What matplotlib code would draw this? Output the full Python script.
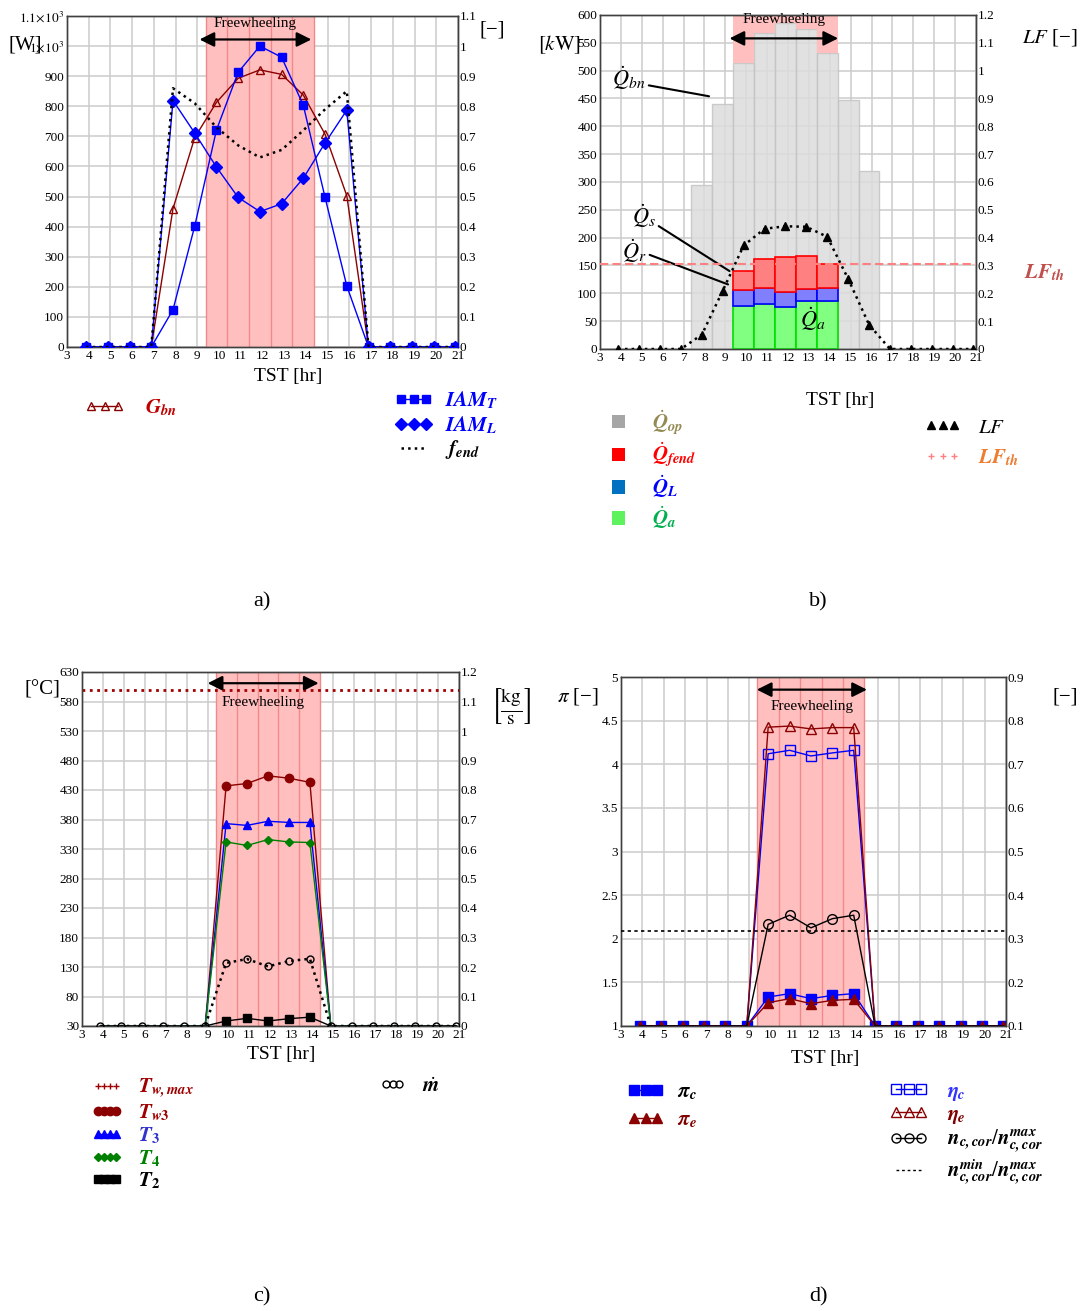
"""Four-panel daily profile: irradiance/IAM, heat balance, temperatures, turbomachinery."""

import matplotlib
import matplotlib.pyplot as plt
import numpy as np
from matplotlib.lines import Line2D
from matplotlib.patches import Patch

matplotlib.use("Agg")

plt.rcParams["font.family"] = ["Liberation Serif", "DejaVu Serif"]
plt.rcParams["mathtext.fontset"] = "stix"

# ---- data -------------------------------------------------------------
hours = np.arange(4, 22)            # hourly samples, drawn just before the hour
X_SHIFT = -0.12
fw_hours = np.arange(10, 15)        # freewheeling hours

# a) irradiance and incidence modifiers
g_bn = [0, 0, 0, 0, 460, 696, 813, 893, 921, 906, 837, 707, 503, 0, 0, 0, 0, 0]
iam_t = [0, 0, 0, 0, 0.124, 0.402, 0.721, 0.913, 1.0, 0.963, 0.803, 0.497, 0.203, 0, 0, 0, 0, 0]
iam_l = [0, 0, 0, 0, 0.819, 0.711, 0.598, 0.497, 0.45, 0.476, 0.561, 0.678, 0.787, 0, 0, 0, 0, 0]
f_end = [0, 0, 0, 0, 0.86, 0.81, 0.73, 0.67, 0.63, 0.655, 0.72, 0.79, 0.85, 0, 0, 0, 0, 0]

# b) heat balance [kW] and load factor
bar_hours = np.arange(8, 17)
q_op = [294, 441, 514, 567, 585, 574, 532, 447, 320]
q_a = [78, 81.5, 75.5, 87, 87]
q_l = [27.5, 28.5, 27.5, 20, 22]
q_fend = [35.5, 52.5, 62, 60, 44]
lf = [0, 0, 0, 0, 0.052, 0.21, 0.372, 0.432, 0.441, 0.439, 0.403, 0.252, 0.0875, 0, 0, 0, 0, 0]
lf_th = 0.305

# c) temperatures [degC] and mass flow [kg/s]
t_wmax = 600
t_w3 = [30] * 6 + [437, 441, 454, 450, 443] + [30] * 7
t_3 = [30] * 6 + [373, 370, 377, 375, 375] + [30] * 7
t_4 = [30] * 6 + [342, 336, 346, 342, 341] + [30] * 7
t_2 = [30] * 6 + [38.5, 43, 38.5, 42.4, 45] + [30] * 7
m_dot = [0] * 6 + [0.2136, 0.227, 0.202, 0.22, 0.228] + [0] * 7

# d) pressure ratios, efficiencies, corrected speed
pi_c = [1] * 6 + [1.332, 1.371, 1.313, 1.351, 1.371] + [1] * 7
pi_e = [1] * 6 + [1.267, 1.313, 1.256, 1.294, 1.306] + [1] * 7
eta_c = [0.1] * 6 + [0.724, 0.732, 0.719, 0.726, 0.732] + [0.1] * 7
eta_e = [0.1] * 6 + [0.785, 0.7875, 0.781, 0.784, 0.784] + [0.1] * 7
n_ratio = [0.1] * 6 + [0.333, 0.354, 0.325, 0.346, 0.354] + [0.1] * 7
n_min_ratio = 0.318

# ---- style ------------------------------------------------------------
PINK = "#ffbfbf"
PINK_EDGE = "#f08a8a"
GRID = "#cccccc"
DARKRED = "#8b0000"
BLUE = "#0000ff"
LEG_FS = 15

W, H = 1088, 1311
fig = plt.figure(figsize=(W / 100, H / 100), dpi=100)

x = hours + X_SHIFT
fw_idx = np.where(np.isin(hours, fw_hours))[0]


def box(l, t, r, b):
    return [l / W, 1 - b / H, (r - l) / W, (b - t) / H]


def fmt(v):
    return f"{v:g}"


def setup(rect, ylim, yticks, y2lim, y2ticks, ylabels=None):
    ax = fig.add_axes(box(*rect))
    ax.set_xlim(3, 21)
    ax.set_xticks(range(3, 22))
    ax.set_ylim(*ylim)
    ax.set_yticks(yticks)
    ax.set_yticklabels(ylabels if ylabels else [fmt(v) for v in yticks])
    ax.set_axisbelow(True)
    ax.grid(True, color=GRID, lw=1.1)
    ax.tick_params(length=0, labelsize=9.5, pad=2)
    ax2 = ax.twinx()
    ax2.set_ylim(*y2lim)
    ax2.set_yticks(y2ticks)
    ax2.set_yticklabels([fmt(v) for v in y2ticks])
    ax2.tick_params(length=0, labelsize=9.5, pad=1)
    for a in (ax, ax2):
        for s in a.spines.values():
            s.set_color("#404040")
            s.set_linewidth(1.0)
    return ax, ax2


def shade_freewheel(ax):
    lo = fw_hours[0] - 0.5 + X_SHIFT
    hi = fw_hours[-1] + 0.5 + X_SHIFT
    ax.axvspan(lo, hi, color=PINK, lw=0, zorder=1)
    for edge in np.arange(lo, hi + 0.01, 1.0):
        ax.axvline(edge, color=PINK_EDGE, lw=1, zorder=1.1)


def freewheel_arrow(ax, x0, x1, y_arrow, y_text):
    ax.annotate("", xy=(x0, y_arrow), xytext=(x1, y_arrow),
                arrowprops=dict(arrowstyle="<|-|>", color="black", lw=1.6,
                                mutation_scale=22, shrinkA=0, shrinkB=0),
                zorder=6)
    ax.text((x0 + x1) / 2, y_text, "Freewheeling", ha="center", va="center",
            fontsize=11, zorder=6)


def add_legend(handles, labels, colors, x_px, y_px, spacing, hl=2.0, pad=0.8,
               npts=3, hh=0.7):
    fig.legend(handles, labels, loc="upper left",
               bbox_to_anchor=(x_px / W, 1 - y_px / H), frameon=False,
               fontsize=LEG_FS, labelcolor=colors, numpoints=npts,
               handlelength=hl, handleheight=hh, handletextpad=pad,
               labelspacing=spacing, borderpad=0, borderaxespad=0)


def ftext(x_px, y_px, s, **kw):
    fig.text(x_px / W, 1 - y_px / H, s, ha="center", va="center", **kw)


# ---- a) ---------------------------------------------------------------
a_ticks = list(range(0, 1101, 100))
a_labels = [str(v) for v in a_ticks[:-2]] + [r"$1\!\times\!10^{3}$", r"$1.1\!\times\!10^{3}$"]
ax_a, a2 = setup((67, 16, 458, 347), (0, 1100), a_ticks, (0, 1.1),
                 np.round(np.arange(0, 1.11, 0.1), 1), a_labels)
shade_freewheel(ax_a)
ax_a.plot(x, g_bn, color=DARKRED, lw=1, marker="^", mfc="none", mec=DARKRED, ms=6, zorder=3)
a2.plot(x, iam_t, color=BLUE, lw=1, marker="s", ms=6, zorder=3)
a2.plot(x, iam_l, color=BLUE, lw=1, marker="D", ms=6, zorder=3)
a2.plot(x, f_end, color="black", lw=1.8, ls=":", zorder=3)
freewheel_arrow(ax_a, 9.1, 14.25, 1022, 1075)

ftext(25, 45, "[W]", fontsize=15)
ftext(492, 30, "[−]", fontsize=15)
ftext(288, 376, "TST [hr]", fontsize=14)

add_legend([Line2D([], [], color=DARKRED, lw=1, marker="^", mfc="none", ms=6)],
           [r"$\mathbfit{G}_{\mathbfit{bn}}$"], ["#c00000"], 85, 398, 0.3,
           hl=1.9, pad=1.0)
add_legend([Line2D([], [], color=BLUE, lw=1, marker="s", ms=6),
            Line2D([], [], color=BLUE, lw=1, marker="D", ms=6),
            Line2D([], [], color="black", lw=1.8, ls=":")],
           [r"$\mathbfit{IAM}_{\mathbfit{T}}$", r"$\mathbfit{IAM}_{\mathbfit{L}}$",
            r"$\mathbfit{f}_{\mathbfit{end}}$"],
           [BLUE, BLUE, "black"], 395, 390, 0.12, hl=1.8, pad=0.6)

# ---- b) ---------------------------------------------------------------
ax_b, b2 = setup((600, 15, 976, 349), (0, 600), list(range(0, 601, 50)), (0, 1.2),
                 np.round(np.arange(0, 1.21, 0.1), 1))
xb = bar_hours + X_SHIFT
xfw = fw_hours + X_SHIFT
q_op_fw = np.array(q_op)[np.isin(bar_hours, fw_hours)]
ax_b.bar(xb, q_op, width=1, color="#dcdcdc", edgecolor="#c4c4c4", lw=1, alpha=0.85, zorder=2)
ax_b.bar(xfw, 600 - q_op_fw, bottom=q_op_fw, width=1, color=PINK, lw=0, zorder=2.1)
qa = np.array(q_a)
ql = np.array(q_l)
ax_b.bar(xfw, qa, width=1, color="#80ff80", edgecolor="#00e000", lw=1.2, zorder=3)
ax_b.bar(xfw, ql, bottom=qa, width=1, color="#8080ff", edgecolor="#0000ff", lw=1.2, zorder=3)
ax_b.bar(xfw, q_fend, bottom=qa + ql, width=1, color="#ff8080", edgecolor="#ff0000", lw=1.2, zorder=3)
b2.plot(x, lf, color="black", lw=1.8, ls=":", marker="^", ms=5.5, zorder=4)
b2.axhline(lf_th, color="#ff8080", lw=1.5, ls=(0, (4, 2)), zorder=4)
freewheel_arrow(ax_b, 9.2, 14.4, 558, 592)

lead = dict(arrowstyle="-", color="black", lw=1.5, shrinkA=0, shrinkB=0)
ax_b.annotate(r"$\dot{Q}_{bn}$", xy=(8.22, 454), xytext=(4.4, 487), fontsize=16,
              ha="center", va="center", arrowprops=dict(lead, relpos=(1, 0.25)), zorder=6)
ax_b.annotate(r"$\dot{Q}_{s}$", xy=(9.2, 140), xytext=(5.1, 239), fontsize=16,
              ha="center", va="center", arrowprops=dict(lead, relpos=(1, 0.2)), zorder=6)
ax_b.annotate(r"$\dot{Q}_{r}$", xy=(9.13, 116), xytext=(4.65, 176), fontsize=16,
              ha="center", va="center", arrowprops=dict(lead, relpos=(1, 0.4)), zorder=6)
ax_b.text(13.2, 53, r"$\dot{Q}_{a}$", fontsize=16, ha="center", va="center", zorder=6)

ftext(560, 45, r"$[k\mathrm{W}]$", fontsize=15)
ftext(1050, 38, r"$LF$ [−]", fontsize=15)
ftext(1044, 273, r"$\mathbfit{LF}_{\mathbfit{th}}$", fontsize=15, color="#c0504d")
ftext(840, 400, "TST [hr]", fontsize=14)

add_legend([Patch(facecolor="#a6a6a6"), Patch(facecolor="#ff0000"),
            Patch(facecolor="#0070c0"), Patch(facecolor="#5ef25e")],
           [r"$\dot{\mathbfit{Q}}_{\mathbfit{op}}$", r"$\dot{\mathbfit{Q}}_{\mathbfit{fend}}$",
            r"$\dot{\mathbfit{Q}}_{\mathbfit{L}}$", r"$\dot{\mathbfit{Q}}_{\mathbfit{a}}$"],
           ["#948a54", "#ff0000", "#0000ff", "#00b050"], 612, 408, 0.2,
           hl=0.62, hh=0.62, pad=1.3)
add_legend([Line2D([], [], color="black", ls="none", marker="^", ms=6),
            Line2D([], [], color="#ff8080", ls="none", marker="+", ms=4)],
           [r"$LF$", r"$\mathbfit{LF}_{\mathbfit{th}}$"], ["black", "#ed7d31"],
           925, 418, 0.5, hl=1.7, pad=0.85)

# ---- c) ---------------------------------------------------------------
ax_c, c2 = setup((82, 672, 459, 1026), (30, 630), list(range(30, 631, 50)), (0, 1.2),
                 np.round(np.arange(0, 1.21, 0.1), 1))
shade_freewheel(ax_c)
ax_c.axhline(t_wmax, color="#a00000", lw=2, ls=":", zorder=3)
ax_c.plot(x, t_w3, color=DARKRED, lw=1, marker="o", ms=6, markevery=fw_idx, zorder=3)
ax_c.plot(x, t_3, color=BLUE, lw=1, marker="^", ms=6, markevery=fw_idx, zorder=3)
ax_c.plot(x, t_4, color="#008000", lw=1, marker="D", ms=4.5, markevery=fw_idx, zorder=3)
ax_c.plot(x, t_2, color="black", lw=1, marker="s", ms=6, markevery=fw_idx, zorder=3)
c2.plot(x, m_dot, color="black", lw=1.8, ls=":", marker="o", mfc="none", ms=5, zorder=3)
freewheel_arrow(ax_c, 9.0, 14.3, 611, 578)

ftext(42, 690, "[°C]", fontsize=15)
ftext(511, 706, r"$\left[\frac{\mathrm{kg}}{\mathrm{s}}\right]$", fontsize=20)
ftext(281, 1054, "TST [hr]", fontsize=14)

add_legend([Line2D([], [], color="#a00000", ls="none", marker="+", ms=4),
            Line2D([], [], color=DARKRED, lw=1, marker="o", ms=6),
            Line2D([], [], color=BLUE, lw=1, marker="^", ms=6),
            Line2D([], [], color="#008000", lw=1, marker="D", ms=4.5),
            Line2D([], [], color="black", lw=1, marker="s", ms=6)],
           [r"$\mathbfit{T}_{\mathbfit{w,max}}$", r"$\mathbfit{T}_{\mathbfit{w}\mathbf{3}}$",
            r"$\mathbfit{T}_{\mathbf{3}}$", r"$\mathbfit{T}_{\mathbf{4}}$",
            r"$\mathbfit{T}_{\mathbf{2}}$"],
           ["#a00000", "#a00000", "#3333cc", "#008000", "black"], 92, 1077, 0.1,
           hl=1.45, pad=0.77, npts=4)
add_legend([Line2D([], [], color="black", ls="none", marker="o", mfc="none", ms=5)],
           [r"$\dot{\mathbfit{m}}$"], ["black"], 380, 1077, 0.1, hl=1.2, pad=0.8)

# ---- d) ---------------------------------------------------------------
ax_d, d2 = setup((621, 677, 1006, 1026), (1, 5), list(np.arange(1, 5.01, 0.5)), (0.1, 0.9),
                 np.round(np.arange(0.1, 0.91, 0.1), 1))
shade_freewheel(ax_d)
ax_d.plot(x, pi_c, color=BLUE, lw=1, marker="s", ms=6.5, zorder=3)
ax_d.plot(x, pi_e, color=DARKRED, lw=1, marker="^", ms=6.5, zorder=3)
d2.plot(x, eta_c, color=BLUE, lw=1, marker="s", mfc="none", ms=6.5, markevery=fw_idx, zorder=3)
d2.plot(x, eta_e, color=DARKRED, lw=1, marker="^", mfc="none", ms=6.5, markevery=fw_idx, zorder=3)
d2.plot(x, n_ratio, color="black", lw=1, marker="o", mfc="none", ms=7, markevery=fw_idx, zorder=3)
d2.axhline(n_min_ratio, color="black", lw=1.2, ls=(0, (2, 2)), zorder=3)
freewheel_arrow(ax_d, 9.35, 14.5, 4.855, 4.66)

ftext(578, 697, r"$\pi$ [−]", fontsize=15)
ftext(1065, 697, "[−]", fontsize=15)
ftext(825, 1059, "TST [hr]", fontsize=14)

add_legend([Line2D([], [], color=BLUE, lw=1, marker="s", ms=6.5),
            Line2D([], [], color=DARKRED, lw=1, marker="^", ms=6.5)],
           [r"$\mathbfit{\pi}_{\mathbfit{c}}$", r"$\mathbfit{\pi}_{\mathbfit{e}}$"],
           ["black", "#800000"], 628, 1083, 0.4, hl=1.7, pad=0.67)
add_legend([Line2D([], [], color=BLUE, lw=1, marker="s", mfc="none", ms=6.5),
            Line2D([], [], color=DARKRED, lw=1, marker="^", mfc="none", ms=6.5),
            Line2D([], [], color="black", lw=1, marker="o", mfc="none", ms=6.5),
            Line2D([], [], color="black", lw=1, ls=(0, (2, 2)))],
           [r"$\mathbfit{\eta}_{\mathbfit{c}}$", r"$\mathbfit{\eta}_{\mathbfit{e}}$",
            r"$\mathbfit{n}_{\mathbfit{c,cor}}/\mathbfit{n}_{\mathbfit{c,cor}}^{\mathbfit{max}}$",
            r"$\mathbfit{n}_{\mathbfit{c,cor}}^{\mathbfit{min}}/\mathbfit{n}_{\mathbfit{c,cor}}^{\mathbfit{max}}$"],
           ["#3333ff", "#800000", "black", "black"], 890, 1082, 0.12, hl=1.8, pad=0.95)

# ---- captions ---------------------------------------------------------
for cx, cy, s in [(262, 602, "a)"), (818, 602, "b)"), (262, 1297, "c)"), (818, 1297, "d)")]:
    ftext(cx, cy, s, fontsize=16)

fig.savefig("out.png", dpi=100)
